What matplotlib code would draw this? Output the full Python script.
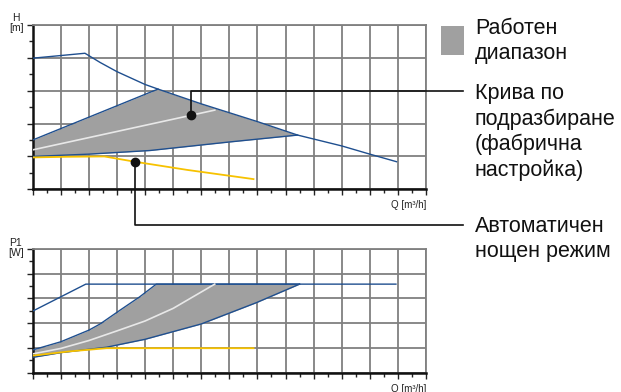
import numpy as np
import matplotlib
matplotlib.use('Agg')
import matplotlib.pyplot as plt
from matplotlib.lines import Line2D
from matplotlib.patches import Rectangle

plt.rcParams['font.family'] = ['Liberation Sans', 'DejaVu Sans']

# --- head curves (top panel) ---
h_max_q = [0, 1.86, 2.4, 3.0, 4.0, 4.46, 6.0, 8.0, 9.43, 11.0, 12.0, 12.95]
h_max = [3.99, 4.14, 3.86, 3.58, 3.19, 3.05, 2.6, 2.06, 1.65, 1.32, 1.07, 0.84]

h_upper_q = [0, 4.46, 6.0, 8.0, 9.43]
h_upper = [1.5, 3.05, 2.6, 2.06, 1.65]
h_lower_q = [0, 2.0, 4.17, 7.0, 9.43]
h_lower = [1.0, 1.07, 1.18, 1.44, 1.65]

h_default_q = [0, 6.48]
h_default = [1.2, 2.41]

h_night_q = [0, 1.2, 2.55, 3.63, 5.5, 7.86]
h_night = [0.97, 0.99, 1.0, 0.84, 0.59, 0.31]

dot_default = (5.65, 2.26)
dot_night = (3.63, 0.84)

# --- power curves (bottom panel) ---
p_max_q = [0, 1.89, 12.93]
p_max = [2.49, 3.58, 3.58]

p_upper_q = [0, 1.0, 2.0, 2.4, 3.1, 3.8, 4.4, 9.5]
p_upper = [0.92, 1.25, 1.72, 1.97, 2.52, 3.06, 3.58, 3.58]
p_lower_q = [0, 1.0, 2.63, 4.0, 6.0, 7.96, 9.5]
p_lower = [0.62, 0.81, 1.03, 1.35, 1.97, 2.83, 3.58]

p_default_q = [0, 1.0, 2.0, 3.0, 4.0, 5.0, 6.48]
p_default = [0.76, 0.98, 1.3, 1.69, 2.09, 2.6, 3.58]

p_night_q = [0, 1.3, 2.63, 7.86]
p_night = [0.69, 0.86, 0.99, 0.99]

legend_labels = ['Работен\nдиапазон', 'Крива по\nподразбиране\n(фабрична\nнастройка)',
                 'Автоматичен\nнощен режим']

BLUE = '#1f4f8f'
FILL = '#a0a0a0'
YELLOW = '#f7c200'
WHITE = '#e8e8e8'
GRID = '#808080'

W, H = 621, 392
fig = plt.figure(figsize=(W / 100, H / 100), dpi=100)


def setup(ax, ylabel, ylab_off):
    ax.set_xlim(0, 14)
    ax.set_ylim(0, 5)
    ax.set_xticks(np.arange(0, 15, 1))
    ax.set_xticks(np.arange(0, 14.5, 0.5), minor=True)
    ax.set_yticks(np.arange(0, 6, 1))
    ax.set_yticks(np.arange(0, 5.5, 0.5), minor=True)
    ax.set_xticklabels([])
    ax.set_yticklabels([])
    ax.grid(True, which='major', color=GRID, lw=1.3)
    ax.tick_params(which='major', direction='out', length=4, width=1, color='#222222')
    ax.tick_params(which='minor', direction='out', length=3, width=1, color='#222222')
    for s in ['top', 'right']:
        ax.spines[s].set_color(GRID)
        ax.spines[s].set_linewidth(1.3)
    for s in ['left', 'bottom']:
        ax.spines[s].set_color('#111111')
        ax.spines[s].set_linewidth(1.8)
    ax.set_axisbelow(True)
    # offsets in points
    ax.annotate(ylabel, xy=(0, 1), xycoords='axes fraction', xytext=ylab_off,
                textcoords='offset points', fontsize=7.5, ha='center', va='bottom',
                linespacing=1.0, color='#222222', annotation_clip=False)
    ax.annotate('Q [m³/h]', xy=(1, 0), xycoords='axes fraction', xytext=(0, -8),
                textcoords='offset points', fontsize=7, ha='right', va='top',
                color='#222222', annotation_clip=False)


ax1 = fig.add_axes([32.7 / W, 1 - 189.3 / H, 393.3 / W, 164.3 / H])
setup(ax1, 'H\n[m]', (-11.8, -6))

qq = np.linspace(0, 9.43, 300)
ax1.fill_between(qq, np.interp(qq, h_lower_q, h_lower), np.interp(qq, h_upper_q, h_upper),
                 color=FILL, lw=0, zorder=2)
ax1.plot(h_upper_q[:2], h_upper[:2], color=BLUE, lw=1.0, zorder=3)
ax1.plot(h_lower_q, h_lower, color=BLUE, lw=1.0, zorder=3)
ax1.plot(h_max_q, h_max, color=BLUE, lw=1.0, zorder=3)
ax1.plot(h_default_q, h_default, color=WHITE, lw=1.2, zorder=3)
ax1.plot(h_night_q, h_night, color=YELLOW, lw=1.3, zorder=3)
ax1.plot(*dot_default, 'o', color='#111111', ms=6, zorder=5, clip_on=False)
ax1.plot(*dot_night, 'o', color='#111111', ms=6, zorder=5, clip_on=False)

ax2 = fig.add_axes([32.7 / W, 1 - 372.7 / H, 393.3 / W, 123.7 / H])
setup(ax2, 'P1\n[W]', (-12.2, -6.5))

qq = np.linspace(0, 9.5, 300)
ax2.fill_between(qq, np.interp(qq, p_lower_q, p_lower), np.interp(qq, p_upper_q, p_upper),
                 color=FILL, lw=0, zorder=2)
ax2.plot(p_upper_q, p_upper, color=BLUE, lw=1.0, zorder=3)
ax2.plot(p_lower_q, p_lower, color=BLUE, lw=1.0, zorder=3)
ax2.plot(p_max_q, p_max, color=BLUE, lw=1.0, zorder=3)
ax2.plot(p_default_q, p_default, color=WHITE, lw=1.2, zorder=3)
ax2.plot(p_night_q, p_night, color=YELLOW, lw=1.3, zorder=3)

# leader lines from the dots to the legend text
inv = fig.transFigure.inverted()
d1 = inv.transform(ax1.transData.transform(dot_default))
d2 = inv.transform(ax1.transData.transform(dot_night))
x_end = 463 / W
y1 = 1 - 90.7 / H
y2 = 1 - 225 / H
fig.add_artist(Line2D([d1[0], d1[0], x_end], [d1[1], y1, y1], color='#111111', lw=1.2,
                      transform=fig.transFigure))
fig.add_artist(Line2D([d2[0], d2[0], x_end], [d2[1], y2, y2], color='#111111', lw=1.2,
                      transform=fig.transFigure))

# legend
fig.add_artist(Rectangle((441 / W, 1 - 55 / H), 23 / W, 29 / H, color=FILL, lw=0,
                         transform=fig.transFigure))
for lab, ytop in zip(legend_labels, [18, 83, 216]):
    fig.text(475 / W, 1 - ytop / H, lab, fontsize=15.5, ha='left', va='top',
             linespacing=1.26, color='#111111')

fig.savefig('out.png', dpi=100)
